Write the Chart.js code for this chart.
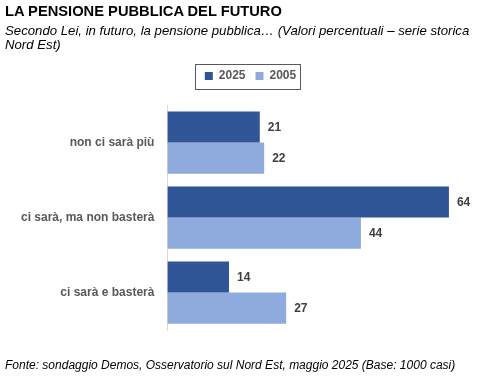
<!DOCTYPE html>
<html>
<head>
<meta charset="utf-8">
<script src="https://cdn.jsdelivr.net/npm/chart.js@4"></script>
<style>
  body { margin: 0; background: #fff; font-family: "Liberation Sans", Arial, sans-serif; }
  #wrap { position: relative; width: 501px; height: 383px; overflow: hidden; }
  #chart { position: absolute; left: 0; top: 0; }
  .title { position: absolute; left: 5px; top: 3px; font-size: 14.7px; font-weight: bold; color: #000; }
  .sub { position: absolute; left: 5px; top: 24px; font-size: 13.2px; font-style: italic; line-height: 14px; color: #000; white-space: nowrap; }
  .foot { position: absolute; left: 5px; top: 358px; font-size: 12px; font-style: italic; color: #000; }
</style>
</head>
<body>
<div id="wrap">
  <canvas id="chart" width="501" height="383"></canvas>
  <div class="title">LA PENSIONE PUBBLICA DEL FUTURO</div>
  <div class="sub">Secondo Lei, in futuro, la pensione pubblica… (Valori percentuali – serie storica<br>Nord Est)</div>
  <div class="foot">Fonte: sondaggio Demos, Osservatorio sul Nord Est, maggio 2025 (Base: 1000 casi)</div>
</div>
<script>
const categories = ["non ci sarà più", "ci sarà, ma non basterà", "ci sarà e basterà"];
const values2025 = [21, 64, 14];
const values2005 = [22, 44, 27];

// value labels next to each bar
const barLabels = {
  id: 'barLabels',
  afterDatasetsDraw(chart) {
    const ctx = chart.ctx;
    ctx.save();
    ctx.font = 'bold 12px "Liberation Sans", Arial, sans-serif';
    ctx.fillStyle = '#404040';
    ctx.textBaseline = 'middle';
    chart.data.datasets.forEach((ds, i) => {
      chart.getDatasetMeta(i).data.forEach((bar, j) => {
        ctx.fillText(ds.data[j], bar.x + 8, bar.y + 1);
      });
    });
    ctx.restore();
  }
};

// extra room under the legend + grey frame round it
const legendFrame = {
  id: 'legendFrame',
  beforeInit(chart) {
    const fit = chart.legend.fit;
    chart.legend.fit = function () {
      fit.bind(chart.legend)();
      this.height += 13;
    };
  },
  afterDraw(chart) {
    const boxes = chart.legend.legendHitBoxes;
    if (!boxes || !boxes.length) return;
    const first = boxes[0], last = boxes[boxes.length - 1];
    const ctx = chart.ctx;
    ctx.save();
    ctx.strokeStyle = '#595959';
    ctx.lineWidth = 1;
    const x1 = Math.round(first.left - 10) + 0.5;
    const x2 = Math.round(last.left + last.width + 4) + 0.5;
    const cy = first.top + first.height / 2;
    ctx.strokeRect(x1, Math.round(cy - 12) + 0.5, x2 - x1, 25);
    ctx.restore();
  }
};

new Chart(document.getElementById('chart').getContext('2d'), {
  type: 'bar',
  data: {
    labels: categories,
    datasets: [{
      label: '2025',
      data: values2025,
      backgroundColor: '#2F5597',
      categoryPercentage: 0.83,
      barPercentage: 1.0
    }, {
      label: '2005',
      data: values2005,
      backgroundColor: '#8FAADC',
      categoryPercentage: 0.83,
      barPercentage: 1.0
    }]
  },
  options: {
    indexAxis: 'y',
    responsive: false,
    animation: false,
    layout: { padding: { top: 60, bottom: 53, left: 16, right: 16 } },
    scales: {
      x: { display: false, min: 0, max: 72.2 },
      y: {
        grid: { display: false },
        border: { color: '#d9d9d9', width: 1 },
        ticks: {
          color: '#595959',
          padding: 5,
          font: { family: '"Liberation Sans", Arial, sans-serif', size: 12, weight: 'bold' }
        }
      }
    },
    plugins: {
      legend: {
        position: 'top',
        labels: {
          boxWidth: 8,
          boxHeight: 8,
          padding: 10,
          color: '#595959',
          font: { family: '"Liberation Sans", Arial, sans-serif', size: 12, weight: 'bold' }
        }
      },
      tooltip: { enabled: false }
    }
  },
  plugins: [barLabels, legendFrame]
});
</script>
</body>
</html>
